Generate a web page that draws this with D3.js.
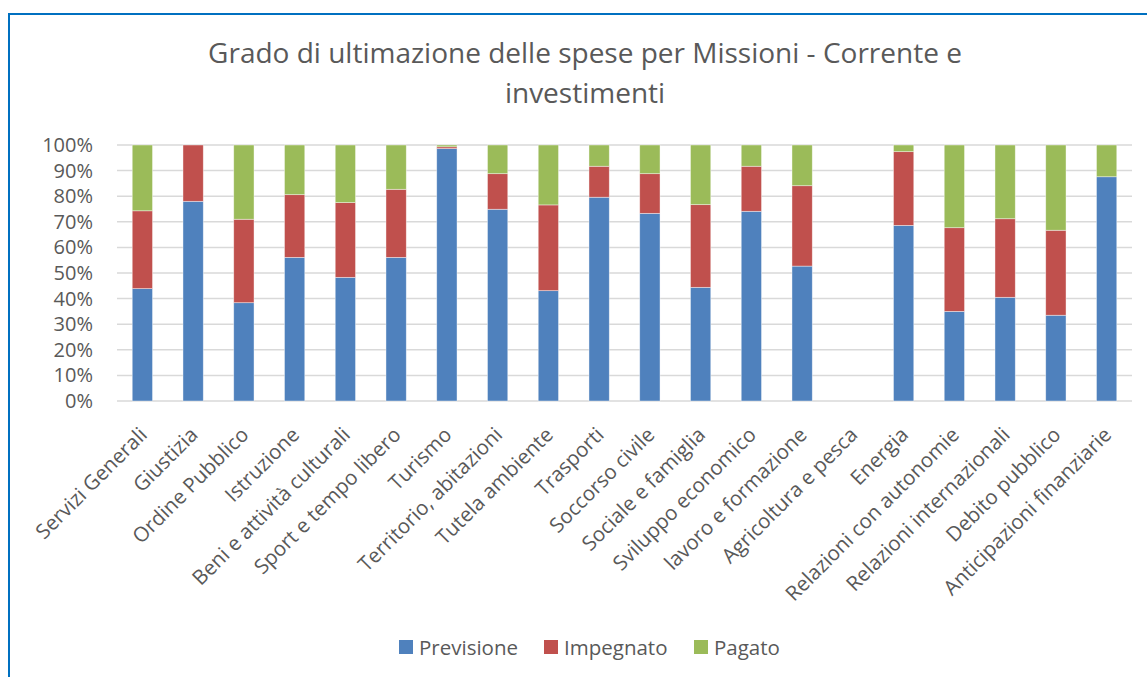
<!DOCTYPE html>
<html>
<head>
<meta charset="utf-8">
<script src="https://cdn.jsdelivr.net/npm/d3@7"></script>
<style>
  body { margin: 0; background: #fff; }
  svg text { font-family: "Open Sans", sans-serif; fill: #595959; }
</style>
</head>
<body>
<svg id="chart" width="1147" height="677"></svg>
<script>
// categories (missioni)
const missioni = ['Servizi Generali', 'Giustizia', 'Ordine Pubblico', 'Istruzione', 'Beni e attività culturali',
  'Sport e tempo libero', 'Turismo', 'Territorio, abitazioni', 'Tutela ambiente', 'Trasporti',
  'Soccorso civile', 'Sociale e famiglia', 'Sviluppo economico', 'lavoro e formazione', 'Agricoltura e pesca',
  'Energia', 'Relazioni con autonomie', 'Relazioni internazionali', 'Debito pubblico', 'Anticipazioni finanziarie']

// share of each segment, in %
const previsione = [43.9, 78.0, 38.4, 56.1, 48.3, 56.1, 98.6, 74.9, 43.1, 79.6, 73.3, 44.4, 74.1, 52.7, 0, 68.6, 35.0, 40.5, 33.5, 87.6]
const impegnato  = [30.4, 22.0, 32.6, 24.5, 29.2, 26.6, 0.7, 13.9, 33.5, 12.1, 15.5, 32.3, 17.6, 31.4, 0, 28.8, 32.7, 30.7, 33.2, 0]
const pagato     = [25.7, 0, 29.0, 19.4, 22.5, 17.3, 0.7, 11.2, 23.4, 8.3, 11.2, 23.3, 8.3, 15.9, 0, 2.6, 32.3, 28.8, 33.3, 12.4]

const serieNames = ['Previsione', 'Impegnato', 'Pagato']
const serieColors = ['#4F81BD', '#C0504D', '#9BBB59']
const yTicks = [0, 0.1, 0.2, 0.3, 0.4, 0.5, 0.6, 0.7, 0.8, 0.9, 1]

const svg = d3.select('#chart')
const W = 1147, H = 677
const margin = {top: 145, left: 117, right: 15, bottom: 276}
const plotW = W - margin.left - margin.right
const plotH = H - margin.top - margin.bottom

// chart border (runs past right/bottom edge of the screenshot)
svg.append('rect').attr('x', 9).attr('y', 14).attr('width', 1160).attr('height', 700)
   .attr('fill', '#fff').attr('stroke', '#0070C0').attr('stroke-width', 2)

// title
const title = svg.append('text').attr('text-anchor', 'middle').style('font-size', '28px')
title.append('tspan').attr('x', 585).attr('y', 63).text('Grado di ultimazione delle spese per Missioni - Corrente e')
title.append('tspan').attr('x', 585).attr('y', 103).text('investimenti')

const rows = missioni.map((m, i) => ({
  name: m, Previsione: previsione[i], Impegnato: impegnato[i], Pagato: pagato[i]
}))

// 100% stacked: normalise each column
const stack = d3.stack().keys(serieNames).offset(d3.stackOffsetExpand)
const series = stack(rows)

const x = d3.scaleBand().domain(missioni).range([0, plotW]).paddingInner(0.6).paddingOuter(0.3)
const y = d3.scaleLinear().domain([0, 1]).range([plotH, 0])

const g = svg.append('g').attr('transform', `translate(${margin.left},${margin.top})`)

// grid
g.append('g').selectAll('line').data(yTicks).join('line')
  .attr('x1', 0).attr('x2', plotW)
  .attr('y1', d => y(d)).attr('y2', d => y(d))
  .attr('stroke', '#D9D9D9').attr('stroke-width', 1.5)

// y axis labels
const yAxis = g.append('g').call(d3.axisLeft(y).tickValues(yTicks).tickFormat(d3.format('.0%')).tickSize(0).tickPadding(24))
yAxis.select('.domain').remove()
yAxis.selectAll('text').style('font-size', '20px').attr('fill', '#595959')

// bars
g.append('g').selectAll('g').data(series).join('g')
  .attr('fill', (d, i) => serieColors[i])
  .selectAll('rect').data(d => d.filter(s => !isNaN(s[1]) && s[1] - s[0] > 0)).join('rect')
  .attr('x', d => x(d.data.name))
  .attr('width', x.bandwidth())
  .attr('y', d => y(d[1]))
  .attr('height', d => y(d[0]) - y(d[1]))
  .attr('stroke', '#fff').attr('stroke-opacity', 0.55).attr('stroke-width', 0.75)

// x labels, rotated
const xAxis = g.append('g').attr('transform', `translate(0,${plotH})`)
  .call(d3.axisBottom(x).tickSize(0).tickPadding(0))
xAxis.select('.domain').remove()
xAxis.selectAll('text')
  .style('font-size', '20.5px')
  .attr('text-anchor', 'end')
  .attr('dy', 0).attr('y', 0)
  .attr('transform', 'translate(6,35) rotate(-45)')

// legend
const legendX = [399, 544, 694]
const leg = svg.append('g').selectAll('g').data(serieNames).join('g')
  .attr('transform', (d, i) => `translate(${legendX[i]},640)`)
leg.append('rect').attr('width', 14).attr('height', 14).attr('fill', (d, i) => serieColors[i])
leg.append('text').attr('x', 20).attr('y', 14.5).style('font-size', '20.5px').text(d => d)
</script>
</body>
</html>
